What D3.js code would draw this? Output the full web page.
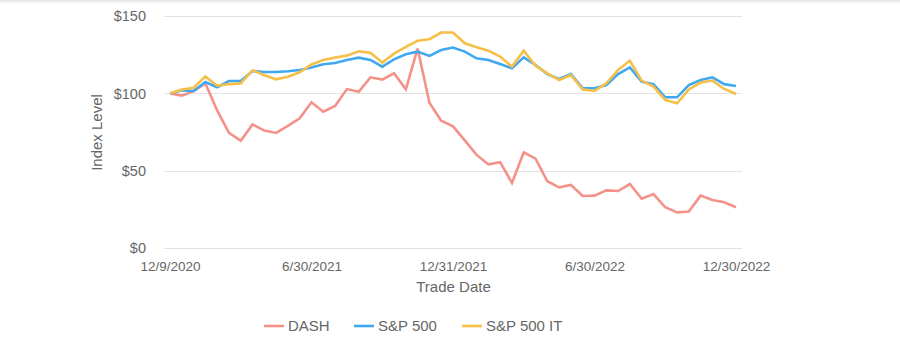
<!DOCTYPE html>
<html>
<head>
<meta charset="utf-8">
<script src="https://cdn.jsdelivr.net/npm/d3@7"></script>
<style>
  html, body { margin: 0; padding: 0; background: #fff; }
  svg { display: block; font-family: "Liberation Sans", Arial, sans-serif; }
</style>
</head>
<body>
<svg id="chart" width="900" height="357"></svg>
<script>
const dates = [
  "12/9/2020","12/31/2020","1/15/2021","1/29/2021","2/12/2021","2/26/2021","3/12/2021","3/31/2021",
  "4/15/2021","4/30/2021","5/14/2021","5/28/2021","6/30/2021","7/15/2021","7/30/2021","8/13/2021",
  "8/31/2021","9/15/2021","9/30/2021","10/15/2021","10/29/2021","11/15/2021","11/30/2021","12/15/2021",
  "12/31/2021","1/14/2022","1/31/2022","2/15/2022","2/28/2022","3/15/2022","3/31/2022","4/14/2022",
  "4/29/2022","5/13/2022","5/31/2022","6/15/2022","6/30/2022","7/15/2022","7/29/2022","8/15/2022",
  "8/31/2022","9/15/2022","9/30/2022","10/14/2022","10/31/2022","11/15/2022","11/30/2022","12/15/2022",
  "12/30/2022"
];
const tickLabels = ["12/9/2020","6/30/2021","12/31/2021","6/30/2022","12/30/2022"];
const yTicks = [0, 50, 100, 150];

const dash = [100, 98.6, 101.5, 106.5, 89, 74.5, 69.5, 80, 76, 74.5, 79, 84, 94.3, 88.2, 91.9, 102.8,
  101, 110.4, 108.9, 113, 102.7, 129, 94, 82.4, 78.7, 69.7, 60.3, 54.2, 55.6, 42.2, 62, 57.9,
  43.3, 39.4, 40.9, 33.8, 34, 37.4, 37, 41.5, 32, 35, 26.5, 23.2, 23.7, 34, 31.2, 29.7, 26.5];
const sp500 = [100, 102, 101.6, 107.4, 104, 108, 108, 114.5, 113.8, 113.8, 114.3, 115.1, 116.8, 118.8, 119.6, 121.6,
  123.1, 121.6, 117.3, 122, 125.3, 127, 124.2, 128, 129.6, 127, 122.7, 121.6, 119, 116.2, 123.3, 118.4,
  112.5, 109.3, 112.5, 103.3, 103.3, 105.4, 112.5, 116.8, 107.6, 106, 97.5, 97.5, 105.4, 108.7, 110.4, 106, 104.8];
const sp500it = [100, 102.6, 103.7, 111, 105, 106, 106.5, 115, 111.7, 109.1, 110.8, 113.7, 118.7, 121.6, 123.2, 124.4,
  127.2, 126.2, 119.9, 125.7, 130, 134, 135, 139.3, 139.3, 132.4, 129.8, 127.6, 123.8, 117.3, 127.6, 117.9,
  113, 108.7, 111.9, 102.6, 101.6, 106.5, 115.1, 121.2, 108.3, 104.4, 95.8, 93.6, 102.6, 107, 108.3, 102.9, 99.6];

const seriesNames = ["DASH", "S&P 500", "S&P 500 IT"];
const seriesValues = [dash, sp500, sp500it];
const colors = ["#f4928a", "#3fa8f0", "#f5bf48"];

const svg = d3.select("#chart");
const textColor = "#666";

// top shadow
const defs = svg.append("defs");
const grad = defs.append("linearGradient").attr("id", "topShade").attr("x1", 0).attr("y1", 0).attr("x2", 0).attr("y2", 1);
grad.append("stop").attr("offset", "0%").attr("stop-color", "#e2e2e2");
grad.append("stop").attr("offset", "100%").attr("stop-color", "#ffffff");
svg.append("rect").attr("x", 0).attr("y", 0).attr("width", 900).attr("height", 4).attr("fill", "url(#topShade)");

const x = d3.scalePoint().domain(dates).range([170, 736]);
const y = d3.scaleLinear().domain([0, 150]).range([248.3, 16]);
const gridX0 = 164, gridX1 = 742;

// gridlines
svg.append("g").selectAll("line").data(yTicks).join("line")
  .attr("x1", gridX0).attr("x2", gridX1)
  .attr("y1", d => Math.round(y(d)) + 0.5).attr("y2", d => Math.round(y(d)) + 0.5)
  .attr("stroke", "#e3e3e3").attr("stroke-width", 1);

// y axis labels
const yAxis = d3.axisLeft(y).tickValues(yTicks).tickSize(0).tickPadding(0).tickFormat(d => "$" + d);
const gy = svg.append("g").attr("transform", "translate(146,0)").call(yAxis);
gy.select(".domain").remove();
gy.selectAll("text").attr("fill", textColor).attr("font-size", "14.5px")
  .attr("font-family", "Liberation Sans, Arial, sans-serif");

// x axis labels
const xAxis = d3.axisBottom(x).tickValues(tickLabels).tickSize(0).tickPadding(0);
const gx = svg.append("g").attr("transform", "translate(0,261)").call(xAxis);
gx.select(".domain").remove();
gx.selectAll("text").attr("fill", textColor).attr("font-size", "13.5px")
  .attr("font-family", "Liberation Sans, Arial, sans-serif");

// axis titles
svg.append("text").attr("x", 453.5).attr("y", 291.5).attr("text-anchor", "middle")
  .attr("fill", textColor).attr("font-size", "15px").text("Trade Date");
svg.append("text").attr("transform", "translate(102,132.5) rotate(-90)").attr("text-anchor", "middle")
  .attr("fill", textColor).attr("font-size", "15px").text("Index Level");

// lines
const line = d3.line().x((d, i) => x(dates[i])).y(d => y(d));
svg.append("g").selectAll("path").data(seriesValues).join("path")
  .attr("d", d => line(d))
  .attr("fill", "none")
  .attr("stroke", (d, i) => colors[i])
  .attr("stroke-width", 2.6)
  .attr("stroke-linejoin", "miter")
  .attr("stroke-linecap", "butt");

// legend
const legendX = [264, 354, 462];
const lg = svg.append("g").selectAll("g").data(seriesNames).join("g")
  .attr("transform", (d, i) => `translate(${legendX[i]},326)`);
lg.append("line").attr("x1", 0).attr("x2", 20).attr("y1", 0).attr("y2", 0)
  .attr("stroke", (d, i) => colors[i]).attr("stroke-width", 2.6);
lg.append("text").attr("x", 24).attr("y", 5.3).attr("fill", textColor)
  .attr("font-size", "15px").text(d => d);
</script>
</body>
</html>
